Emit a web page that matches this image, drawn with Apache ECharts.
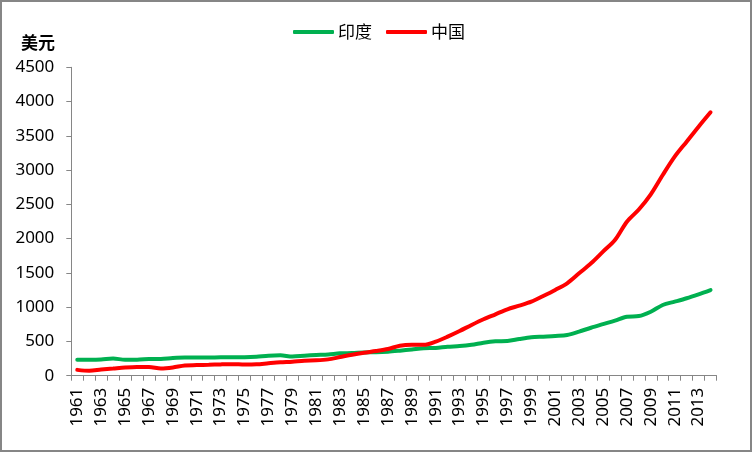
<!DOCTYPE html>
<html>
<head>
<meta charset="utf-8">
<script src="https://cdn.jsdelivr.net/npm/echarts@6/dist/echarts.min.js"></script>
<style>
html,body{margin:0;padding:0;background:#fff;}
#c{width:752px;height:452px;}
</style>
</head>
<body>
<div id="c"></div>
<script>
var years = [];
for (var y = 1961; y <= 2014; y++) years.push(String(y));

var india = [234,234,237,250,234,234,243,245,258,265,
             265,265,268,268,270,278,292,297,280,292,
             302,311,326,331,340,342,350,365,382,400,
             405,423,433,452,482,502,506,535,560,570,
             580,594,643,700,752,803,861,870,934,1032,
             1080,1130,1188,1250];
var china = [85,72,90,105,120,128,128,105,120,150,
             155,160,165,168,163,166,181,195,205,219,
             224,238,272,306,335,360,390,438,452,450,
             497,570,652,740,823,896,969,1022,1080,1163,
             1251,1348,1494,1640,1810,1980,2247,2425,2647,2929,
             3196,3415,3634,3844];
var yTicks = [0,500,1000,1500,2000,2500,3000,3500,4000,4500];

var chart = echarts.init(document.getElementById('c'), null, {renderer:'canvas'});
var lblFont = '"Noto Sans", "Liberation Sans", sans-serif';
chart.setOption({
  animation:false,
  backgroundColor:'#fff',
  graphic:[
    {type:'rect', shape:{x:1,y:1,width:750,height:450}, style:{fill:'none', stroke:'#868686', lineWidth:2}, silent:true},
    {type:'text', left:21, top:34, style:{text:'美元', font:'bold 17px "Noto Sans CJK SC", sans-serif', fill:'#000'}}
  ],
  legend:{
    top:18.5, left:288,
    itemWidth:41, itemHeight:4, itemGap:14,
    icon:'roundRect',
    textStyle:{fontSize:17, color:'#000', fontFamily:'"Noto Sans CJK SC", sans-serif', padding:[0,0,0,-1]},
    data:['印度','中国']
  },
  grid:{left:71.3, right:35.5, top:67.3, bottom:76.3, containLabel:false},
  xAxis:{
    type:'category', data:years, boundaryGap:true,
    axisLine:{lineStyle:{color:'#868686', width:1}},
    axisTick:{show:true, length:5, alignWithLabel:false, interval:0, lineStyle:{color:'#868686'}},
    axisLabel:{rotate:90, interval:1, margin:12, fontSize:17, color:'#000', fontFamily:lblFont},
    splitLine:{show:false}
  },
  yAxis:{
    type:'value', min:yTicks[0], max:yTicks[yTicks.length-1], interval:500,
    axisLine:{show:true, lineStyle:{color:'#868686', width:1}},
    axisTick:{show:true, length:5, lineStyle:{color:'#868686'}},
    axisLabel:{margin:17, fontSize:17, color:'#000', fontFamily:lblFont,
               formatter:function(v){return String(v);}},
    splitLine:{show:false}
  },
  series:[
    {name:'印度', type:'line', data:india, smooth:0.3, showSymbol:false, symbol:'none',
     lineStyle:{color:'#00B050', width:4, cap:'round'}, itemStyle:{color:'#00B050'}},
    {name:'中国', type:'line', data:china, smooth:0.3, showSymbol:false, symbol:'none',
     lineStyle:{color:'#FF0000', width:4, cap:'round'}, itemStyle:{color:'#FF0000'}}
  ]
});
</script>
</body>
</html>
